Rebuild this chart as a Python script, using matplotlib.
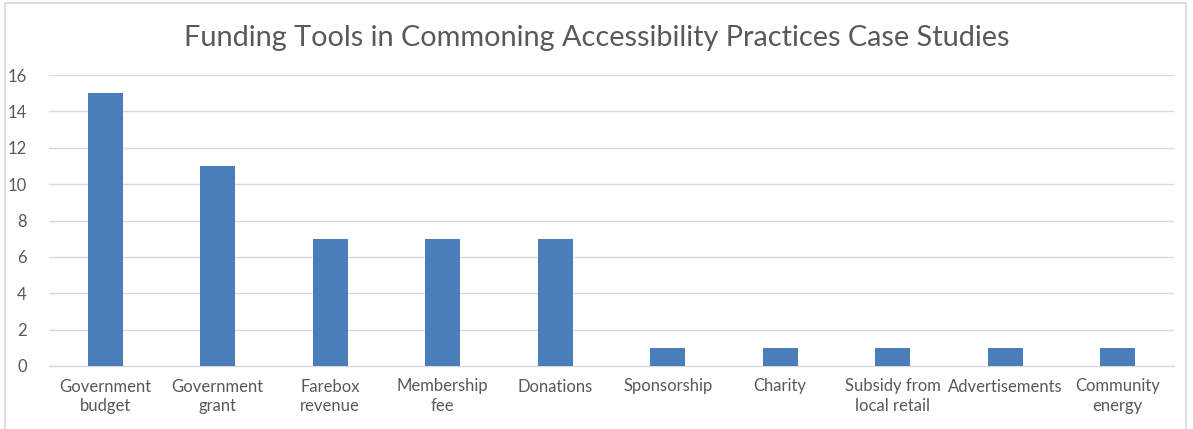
import matplotlib
matplotlib.use("Agg")
import matplotlib.pyplot as plt
from matplotlib.patches import Rectangle

categories = ["Government\nbudget", "Government\ngrant", "Farebox\nrevenue", "Membership\nfee",
              "Donations", "Sponsorship", "Charity", "Subsidy from\nlocal retail",
              "Advertisements", "Community\nenergy"]
counts = [15, 11, 7, 7, 7, 1, 1, 1, 1, 1]
yticks = [0, 2, 4, 6, 8, 10, 12, 14, 16]

plt.rcParams["font.family"] = ["Lato", "DejaVu Sans"]
text_color = "#595959"
bar_color = "#4a7ebb"
grid_color = "#d9d9d9"

fig = plt.figure(figsize=(11.93, 4.29), dpi=100)
ax = fig.add_axes([49 / 1193, 1 - 366 / 429, (1174 - 49) / 1193, (366 - 75) / 429])

x = range(len(categories))
ax.bar(x, counts, width=0.31, color=bar_color, zorder=3)

ax.set_xlim(-0.5, len(categories) - 0.5)
ax.set_ylim(0, 16)
ax.set_yticks(yticks)
ax.set_xticks(list(x))
ax.set_xticklabels(categories, fontsize=12, color=text_color, linespacing=1.3)
ax.tick_params(axis="y", labelsize=12, labelcolor=text_color, length=0, pad=16)
ax.tick_params(axis="x", length=0, pad=9)

ax.grid(axis="y", color=grid_color, linewidth=1, zorder=0)
for side in ["top", "right", "left"]:
    ax.spines[side].set_visible(False)
ax.spines["bottom"].set_color(grid_color)
ax.spines["bottom"].set_linewidth(1)

fig.text(597 / 1193, 1 - 38 / 429, "Funding Tools in Commoning Accessibility Practices Case Studies",
         ha="center", va="center", fontsize=20.8, color=text_color)

# Chart-area border
fig.patches.append(Rectangle((5 / 1193, -0.1), (1186 - 5) / 1193, 1.1 - 3 / 429,
                             transform=fig.transFigure, fill=False,
                             edgecolor="#d9d9d9", linewidth=1.2))

fig.savefig("out.png", dpi=100, facecolor="white")
